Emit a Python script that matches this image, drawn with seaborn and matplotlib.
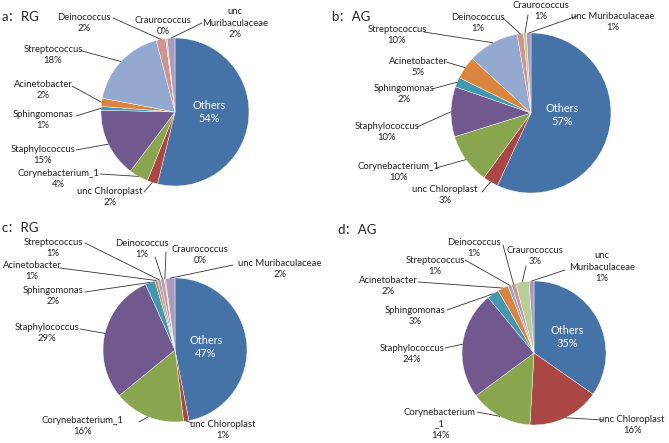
import numpy as np
import matplotlib.pyplot as plt
import seaborn as sns

sns.set_theme(style="white")
plt.rcParams['font.family'] = ['Lato', 'Noto Sans CJK SC', 'DejaVu Sans']

# taxa in clockwise order starting at 12 o'clock
taxa = ["Others", "unc Chloroplast", "Corynebacterium_1", "Staphylococcus",
        "Sphingomonas", "Acinetobacter", "Streptococcus", "Deinococcus",
        "Craurococcus", "unc Muribaculaceae"]

# relative abundance (%)
rg_a = [53.8, 2.3, 4.2, 15.1, 0.8, 1.8, 17.9, 2.1, 0.3, 1.7]
ag_b = [56.9, 3.1, 10.2, 10.1, 2.0, 4.6, 10.3, 1.3, 0.6, 0.9]
rg_c = [46.9, 1.2, 16.0, 29.2, 2.2, 0.6, 0.7, 0.8, 0.3, 2.1]
ag_d = [34.7, 16.2, 14.0, 24.1, 2.7, 2.4, 0.8, 1.0, 3.0, 1.1]

titles = ["a：RG", "b：AG", "c：RG", "d：AG"]

palette = sns.color_palette(["#4572A7", "#AA4643", "#89A54E", "#71588F", "#4198AF",
                             "#DB843D", "#93A9CF", "#D19392", "#B9CD96", "#A99BBD"])

W, H = 669, 443

# layout in pixels: pie centre / radius, title position
pies = [
    dict(vals=rg_a, cx=175, cy=112, r=74, title=(2, 17)),
    dict(vals=ag_b, cx=531, cy=113, r=80, title=(331, 17)),
    dict(vals=rg_c, cx=175, cy=350, r=72, title=(2, 228)),
    dict(vals=ag_d, cx=534, cy=353, r=72, title=(337, 230)),
]

# label layout: taxon -> (text centre x, y, leader start x, y)
labels = [
    {
        "Others": (209, 112, None, None),
        "unc Chloroplast": (110, 197, 144, 192),
        "Corynebacterium_1": (58, 179, 100, 174),
        "Staphylococcus": (43, 155, 76, 150),
        "Sphingomonas": (43, 120, 76, 116),
        "Acinetobacter": (43, 90, 72, 86),
        "Streptococcus": (53, 55, 82, 51),
        "Deinococcus": (84, 23, 113, 18),
        "Craurococcus": (163, 26, None, None),
        "unc Muribaculaceae": (235, 23, 202, 23),
    },
    {
        "Others": (562, 115, None, None),
        "unc Chloroplast": (445, 195, 482, 192),
        "Corynebacterium_1": (398, 172, 436, 168),
        "Staphylococcus": (387, 132, 417, 127),
        "Sphingomonas": (404, 94, 432, 89),
        "Acinetobacter": (418, 67, 446, 62),
        "Streptococcus": (397, 35, 424, 32),
        "Deinococcus": (478, 23, 503, 18),
        "Craurococcus": (541, 11, 528, 15),
        "unc Muribaculaceae": (613, 22, 577, 16),
    },
    {
        "Others": (206, 347, None, None),
        "unc Chloroplast": (223, 430, 193, 423),
        "Corynebacterium_1": (82, 426, 139, 422),
        "Staphylococcus": (47, 333, 80, 329),
        "Sphingomonas": (53, 296, 85, 292),
        "Acinetobacter": (32, 271, 60, 268),
        "Streptococcus": (53, 248, 85, 243),
        "Deinococcus": (142, 249, 155, 257),
        "Craurococcus": (200, 255, 166, 252),
        "unc Muribaculaceae": (280, 269, 233, 265),
    },
    {
        "Others": (567, 337, None, None),
        "unc Chloroplast": (632, 425, 603, 420),
        "Corynebacterium_1": (440, 424, 477, 412),
        "Staphylococcus": (412, 354, 445, 348),
        "Sphingomonas": (415, 316, 447, 310),
        "Acinetobacter": (388, 286, 418, 282),
        "Streptococcus": (435, 266, 465, 260),
        "Deinococcus": (474, 248, 503, 245),
        "Craurococcus": (535, 256, 526, 266),
        "unc Muribaculaceae": (602, 267, 565, 270),
    },
]

# names that wrap differently in some panels
name_override = [
    {"unc Muribaculaceae": "unc\nMuribaculaceae"},
    {},
    {},
    {"unc Muribaculaceae": "unc\nMuribaculaceae", "Corynebacterium_1": "Corynebacterium\n_1"},
]

fig = plt.figure(figsize=(W / 100, H / 100), dpi=100)

for p in pies:
    cx, cy, r = p["cx"], p["cy"], p["r"]
    ax = fig.add_axes([(cx - r) / W, 1 - (cy + r) / H, 2 * r / W, 2 * r / H])
    ax.pie(p["vals"], colors=palette, startangle=90, counterclock=False,
           wedgeprops=dict(linewidth=0.3, edgecolor="white"))
    ax.set_xlim(-1, 1)
    ax.set_ylim(-1, 1)
    ax.axis("off")

# overlay in pixel coordinates for labels and leader lines
ov = fig.add_axes([0, 0, 1, 1])
ov.set_xlim(0, W)
ov.set_ylim(H, 0)
ov.axis("off")

for i, p in enumerate(pies):
    vals = np.array(p["vals"])
    total = vals.sum()
    cum = np.cumsum(vals) - vals / 2
    ov.text(p["title"][0], p["title"][1], titles[i], fontsize=9.5, ha="left", va="center",
            color="#222222")
    for j, name in enumerate(taxa):
        tx, ty, lx, ly = labels[i][name]
        shown = name_override[i].get(name, name)
        txt = f"{shown}\n{vals[j]:.0f}%"
        if name == "Others":
            ov.text(tx, ty, txt, fontsize=7.8, color="white", ha="center", va="center",
                    linespacing=1.3)
            continue
        ov.text(tx, ty, txt, fontsize=6.8, color="#222222", ha="center", va="center",
                linespacing=1.3)
        if lx is not None:
            theta = np.deg2rad(90 - 360 * cum[j] / total)
            px = p["cx"] + p["r"] * np.cos(theta)
            py = p["cy"] - p["r"] * np.sin(theta)
            ov.plot([lx, px], [ly, py], color="#333333", lw=0.6)

fig.savefig("out.png", dpi=100)
